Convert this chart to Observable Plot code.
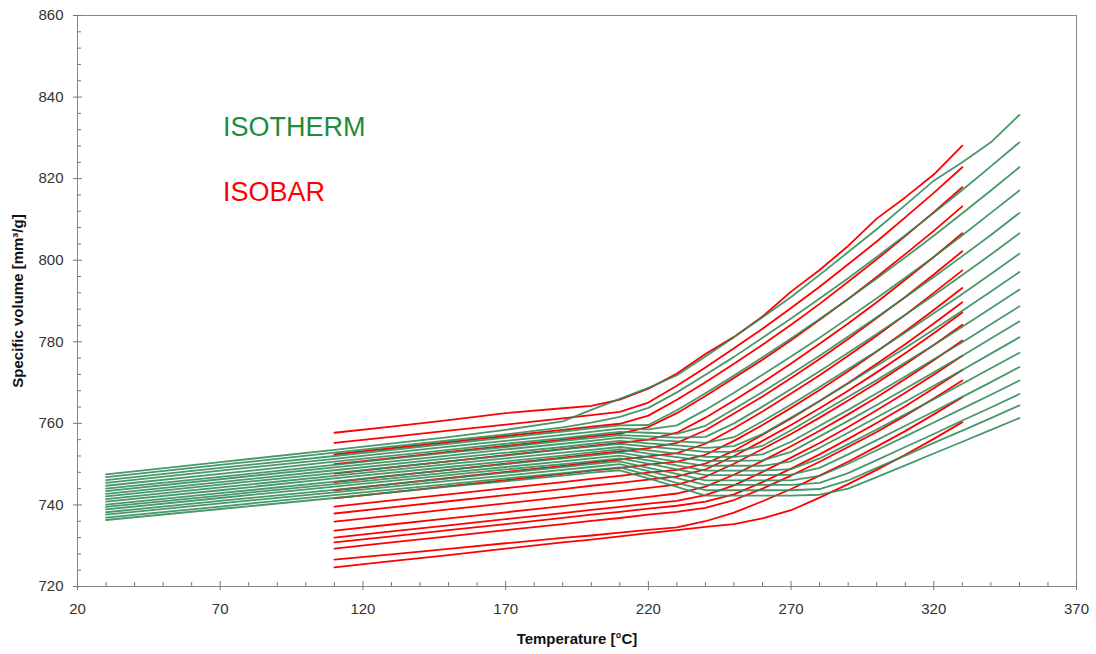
<!DOCTYPE html>
<html><head><meta charset="utf-8">
<script src="https://cdn.jsdelivr.net/npm/d3@7"></script>
<script src="https://cdn.jsdelivr.net/npm/@observablehq/plot@0.6"></script>
<style>html,body{margin:0;padding:0;background:#fff} svg{display:block}</style>
</head><body><div id="chart"></div>
<script>
// Temperatures (°C) of the isotherm (green) and isobar (red) series
const isothermT = [30,70,110,150,170,190,200,210,220,230,240,250,260,270,280,290,300,310,320,330,340,350];
const isobarT = [110,130,150,170,190,200,210,220,230,240,250,260,270,280,290,300,310,320,330];

// Specific volume (mm³/g), one row per green line
const isothermVolumes = [
 [747.5,750.5,753.5,756.6,758.4,760.5,763.3,766.0,768.7,771.8,776.4,781.1,786.0,791.0,796.4,802.0,807.6,813.5,819.5,824.0,828.9,835.6],
 [746.8,749.8,752.8,755.8,757.3,759.0,760.2,761.6,763.8,767.6,771.9,776.3,781.0,785.7,790.6,795.6,800.8,806.1,811.6,817.2,823.0,828.9],
 [746.1,749.1,752.0,755.0,756.5,758.0,758.8,759.5,759.6,763.2,767.4,771.7,776.2,780.8,785.6,790.5,795.5,800.7,806.0,811.5,817.1,822.8],
 [745.4,748.4,751.3,754.3,755.7,757.2,757.9,758.7,758.5,759.5,763.3,767.5,771.9,776.4,781.0,785.8,790.7,795.7,800.8,806.1,811.6,817.1],
 [744.7,747.6,750.6,753.5,755.0,756.4,757.2,757.9,757.7,757.4,759.4,763.5,767.7,772.1,776.6,781.3,786.0,790.9,795.9,801.0,806.2,811.6],
 [744.0,746.9,749.8,752.8,754.2,755.7,756.4,757.1,756.8,756.5,756.7,760.0,764.1,768.4,772.8,777.3,781.9,786.6,791.4,796.4,801.4,806.6],
 [743.4,746.3,749.2,752.1,753.6,755.0,755.7,756.5,756.0,755.6,755.2,756.6,760.5,764.6,768.9,773.3,777.7,782.3,787.0,791.7,796.6,801.6],
 [742.7,745.6,748.5,751.4,752.8,754.2,755.0,755.7,755.1,754.6,754.0,754.4,757.4,761.4,765.5,769.8,774.1,778.5,783.0,787.6,792.3,797.1],
 [742.1,745.0,747.8,750.7,752.1,753.6,754.3,755.0,754.3,753.7,753.0,753.0,754.5,758.3,762.4,766.5,770.6,774.9,779.2,783.7,788.2,792.8],
 [741.4,744.3,747.1,750.0,751.4,752.8,753.5,754.2,753.4,752.6,751.8,751.8,752.4,755.5,759.4,763.3,767.4,771.5,775.7,779.9,784.3,788.7],
 [740.8,743.6,746.5,749.3,750.7,752.1,752.9,753.6,752.6,751.7,750.8,750.8,750.9,753.0,756.8,760.6,764.5,768.5,772.5,776.6,780.8,785.0],
 [740.1,742.9,745.7,748.6,750.0,751.4,752.1,752.8,751.7,750.6,749.6,749.6,749.6,750.7,754.0,757.7,761.5,765.3,769.2,773.1,777.1,781.1],
 [739.5,742.3,745.1,747.9,749.3,750.7,751.4,752.1,750.9,749.7,748.4,748.4,748.4,748.8,751.4,754.9,758.5,762.2,765.9,769.7,773.5,777.3],
 [738.9,741.7,744.5,747.3,748.7,750.0,750.7,751.4,750.1,748.7,747.3,747.3,747.3,747.4,749.1,752.4,755.9,759.4,762.9,766.5,770.1,773.8],
 [738.2,741.0,743.7,746.5,747.9,749.3,750.0,750.7,749.1,747.6,746.0,746.0,746.0,746.0,747.1,750.1,753.4,756.8,760.2,763.6,767.0,770.5],
 [737.6,740.4,743.1,745.9,747.2,748.6,749.3,750.0,748.3,746.6,744.9,744.9,744.9,744.9,745.4,747.8,751.0,754.2,757.4,760.7,763.9,767.2],
 [736.9,739.6,742.4,745.1,746.5,747.8,748.5,749.2,747.3,745.4,743.6,743.6,743.6,743.6,743.9,746.0,749.1,752.1,755.2,758.2,761.3,764.4],
 [736.3,739.0,741.7,744.5,745.8,747.2,747.9,748.5,746.5,744.4,742.3,742.3,742.3,742.3,742.5,744.0,746.8,749.7,752.6,755.5,758.4,761.3]
];

// Specific volume (mm³/g), one row per red line
const isobarVolumes = [
 [757.7,759.2,760.8,762.5,763.7,764.3,765.8,768.5,772.2,777.0,781.2,786.2,792.3,797.6,803.5,810.2,815.4,821.0,828.1],
 [755.2,756.7,758.2,759.7,761.2,762.0,762.8,765.1,769.2,773.7,778.4,783.2,788.3,793.5,799.0,804.6,810.5,816.5,822.8],
 [752.4,753.9,755.4,756.9,758.4,759.2,759.9,761.9,765.8,770.1,774.6,779.3,784.2,789.3,794.7,800.2,805.9,811.8,817.9],
 [750.0,751.5,753.0,754.5,756.0,756.8,757.5,759.1,762.5,766.7,771.1,775.6,780.4,785.4,790.5,795.9,801.5,807.2,813.2],
 [747.7,749.2,750.7,752.2,753.7,754.5,755.2,756.0,757.7,761.4,765.6,770.0,774.7,779.5,784.5,789.7,795.2,800.8,806.6],
 [745.6,747.1,748.6,750.1,751.6,752.4,753.1,753.9,755.2,758.3,762.4,766.6,771.1,775.8,780.7,785.8,791.0,796.5,802.2],
 [743.6,745.1,746.6,748.1,749.6,750.4,751.1,751.9,752.7,755.0,758.8,762.9,767.3,771.8,776.6,781.5,786.6,792.0,797.5],
 [741.6,743.1,744.6,746.1,747.6,748.4,749.1,749.9,750.6,752.3,755.7,759.6,763.8,768.2,772.8,777.6,782.6,787.8,793.2],
 [739.6,741.1,742.6,744.1,745.6,746.4,747.1,747.9,748.6,750.1,753.3,757.2,761.2,765.5,769.9,774.6,779.4,784.5,789.7],
 [737.9,739.4,740.9,742.4,743.9,744.7,745.4,746.2,747.0,748.7,752.0,755.7,759.6,763.7,768.0,772.5,777.2,782.1,787.2],
 [735.9,737.4,738.9,740.4,741.9,742.7,743.4,744.2,745.0,746.9,750.1,753.7,757.4,761.4,765.6,769.9,774.5,779.2,784.2],
 [733.7,735.2,736.7,738.2,739.7,740.5,741.2,742.0,742.8,744.5,747.4,750.8,754.4,758.2,762.2,766.4,770.9,775.5,780.3],
 [732.0,733.5,735.0,736.5,738.0,738.8,739.5,740.3,741.0,742.4,744.8,748.1,751.6,755.2,759.1,763.2,767.5,771.9,776.6],
 [730.8,732.3,733.8,735.3,736.8,737.6,738.3,739.1,739.8,740.8,742.6,745.6,748.9,752.4,756.2,760.1,764.2,768.6,773.1],
 [729.3,730.8,732.3,733.8,735.3,736.1,736.8,737.6,738.3,739.3,741.2,744.0,747.2,750.6,754.2,757.9,761.9,766.1,770.5],
 [726.6,727.9,729.2,730.6,731.9,732.5,733.2,733.9,734.5,736.0,738.1,740.9,743.9,747.2,750.6,754.3,758.1,762.2,766.4],
 [724.7,726.2,727.7,729.3,730.8,731.5,732.3,733.1,733.8,734.6,735.3,736.7,738.7,741.8,745.1,748.6,752.3,756.2,760.3]
];

// Axis ticks
const xTicks = [20,70,120,170,220,270,320,370];
const yTicks = [720,740,760,780,800,820,840,860];
const xMinor = d3.range(20, 371, 10).filter(v => !xTicks.includes(v));
const yMinor = d3.range(720, 861, 4).filter(v => !yTicks.includes(v));

// Legend labels
const legendLabels = [
  {text: "ISOTHERM", x: 71, y: 832.5, color: "#1e8c3a"},
  {text: "ISOBAR", x: 71, y: 816.6, color: "#ff0000"}
];

const toRows = (T, rows, prefix) => rows.flatMap((vals, i) => vals.map((v, k) => ({T: T[k], v, s: prefix + i})));
const greenRows = toRows(isothermT, isothermVolumes, "iso");
const redRows = toRows(isobarT, isobarVolumes, "bar");

const W = 1096, H = 654, ML = 77, MR = 20, MT = 15, MB = 68;
const innerW = W - ML - MR, innerH = H - MT - MB;
const tickCol = "#777";

const chart = Plot.plot({
  width: W, height: H,
  marginLeft: ML, marginRight: MR, marginTop: MT, marginBottom: MB,
  x: {domain: [20, 370]},
  y: {domain: [720, 860]},
  style: {fontFamily: "'Liberation Sans', Arial, sans-serif", background: "#fff", color: "#333"},
  marks: [
    Plot.frame({stroke: "#888", strokeWidth: 1}),
    Plot.line(redRows, {x: "T", y: "v", z: "s", stroke: "#ff0000", strokeWidth: 1.8}),
    Plot.line(greenRows, {x: "T", y: "v", z: "s", stroke: "#2e8b57", strokeWidth: 1.8, strokeOpacity: 0.88}),
    Plot.tickX(xMinor, {x: d => d, stroke: tickCol, insetTop: innerH - 4}),
    Plot.tickX(xTicks, {x: d => d, stroke: tickCol, insetTop: innerH - 5, insetBottom: -4}),
    Plot.tickY(yMinor, {y: d => d, stroke: tickCol, insetRight: innerW - 4}),
    Plot.tickY(yTicks, {y: d => d, stroke: tickCol, insetRight: innerW - 5, insetLeft: -4}),
    Plot.axisX({ticks: xTicks, tickSize: 0, tickPadding: 17, fontSize: 15, label: null}),
    Plot.axisY({ticks: yTicks, tickSize: 0, tickPadding: 14, fontSize: 15, label: null}),
    Plot.text(["Temperature [°C]"], {frameAnchor: "bottom", dy: 57, fontWeight: "bold", fontSize: 15, fill: "#111"}),
    Plot.text(["Specific volume [mm³/g]"], {frameAnchor: "left", dx: -59, rotate: -90, textAnchor: "middle", fontWeight: "bold", fontSize: 15, fill: "#111"}),
    Plot.text(legendLabels, {x: "x", y: "y", text: "text", fill: d => d.color, fontSize: 27, textAnchor: "start"})
  ]
});
document.getElementById("chart").appendChild(chart);
</script>
</body></html>
